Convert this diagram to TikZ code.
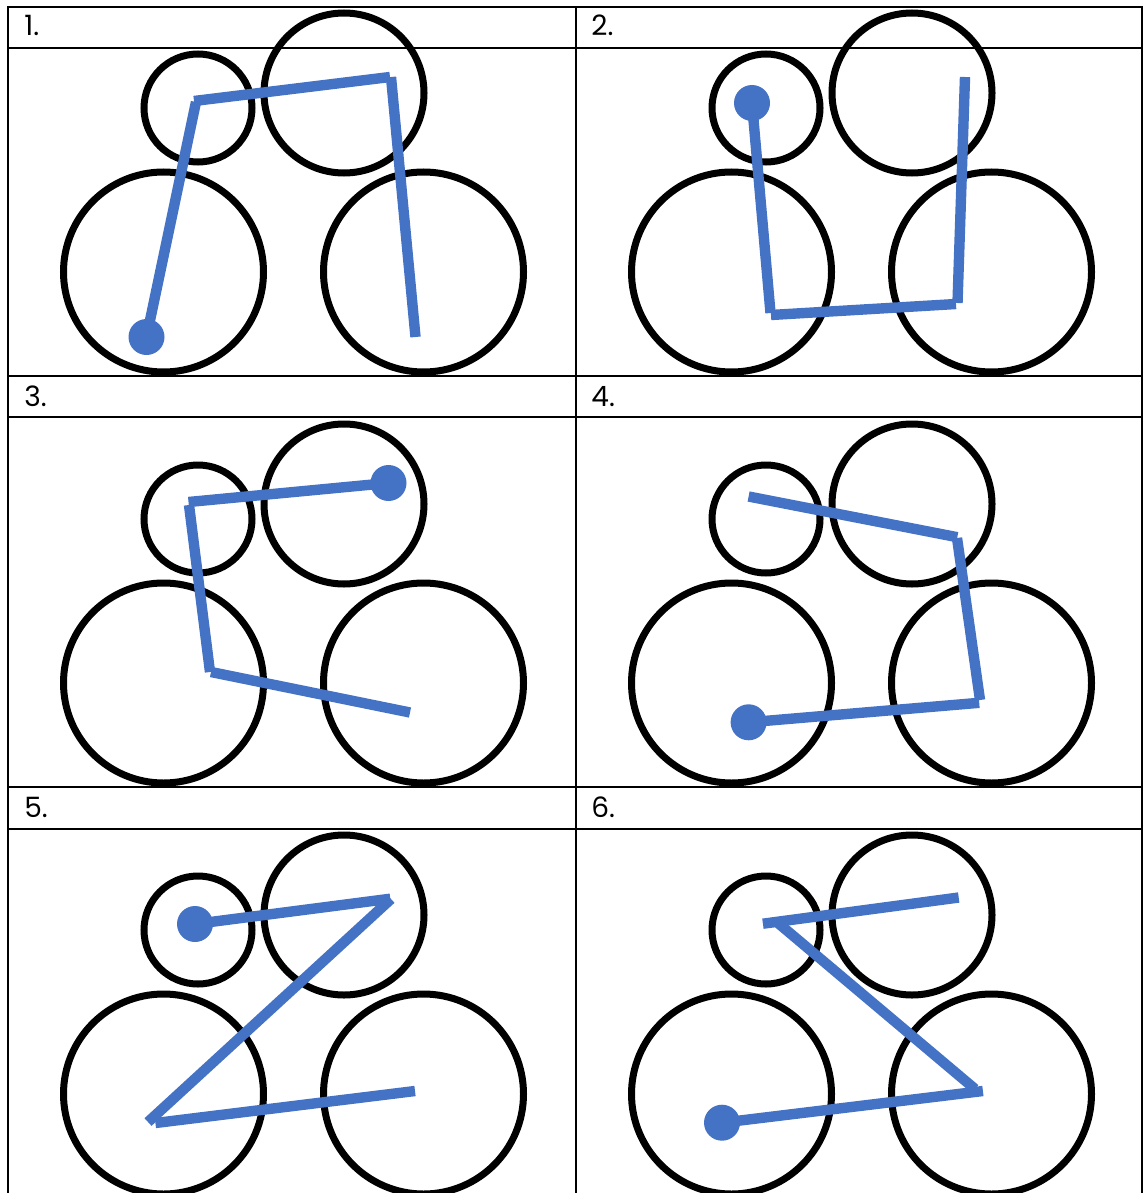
\documentclass[tikz,border=0pt]{standalone}
\usepackage{fontspec}
\usepackage{tikz}
\newfontfamily\xifres{Poppins}
\definecolor{blau}{HTML}{4472C4}

\begin{document}
\begin{tikzpicture}[x=0.5pt,y=-0.5pt,
        roda/.style={line width=3.5pt},
        tub/.style={line width=5.2pt,blau},
        vora/.style={line width=1.2pt}]
        \clip (0,0) rectangle (1144,1193);
        % Graella: tres files i dues columnes, amb capcalera
        \draw[vora] (8,1193) -- (8,7) -- (1142,7) -- (1142,1193);
        \draw[vora] (576,7) -- (576,1193);
        \foreach \y in {48,376,417,787,829}
            \draw[vora] (8,\y) -- (1142,\y);
        % Numeros de les caselles
        \foreach \n/\x/\y in {1/24/36,2/591/36,3/24/406,4/591/406,5/24/817,6/591/817}
            \node[anchor=base west,inner sep=0pt,font=\xifres\fontsize{14pt}{16pt}\selectfont] (num\n) at (\x,\y) {\n.};
        % Les quatre rodes de cada casella
        \foreach \dx in {0,568}
            \foreach \dy in {0,411,822} {
                \draw[roda] (198+\dx,108+\dy) circle (54);  % petita
                \draw[roda] (344+\dx,93+\dy) circle (80);   % mitjana
                \draw[roda] (163.5+\dx,272+\dy) circle (100);
                \draw[roda] (423.5+\dx,272+\dy) circle (100);
            }
        % Casella 1
        \draw[tub] (146.5,337) -- (196,102);
        \draw[tub] (194,101) -- (390,77);
        \draw[tub] (391,77) -- (415.5,337);
        \fill[blau] (146.5,337) circle (18);
        % Casella 2
        \draw[tub] (752,103) -- (770.5,313);
        \draw[tub] (771,315) -- (956,304);
        \draw[tub] (957.5,303) -- (965,77);
        \fill[blau] (752,103) circle (18);
        % Casella 3
        \draw[tub] (388.5,483) -- (188.5,502);
        \draw[tub] (189,505) -- (210,672);
        \draw[tub] (211,672) -- (410,712.5);
        \fill[blau] (388.5,483) circle (18);
        % Casella 4
        \draw[tub] (748.6,496.5) -- (957.3,537.2);
        \draw[tub] (957,538) -- (980,700);
        \draw[tub] (979.2,702.8) -- (748.6,722.3);
        \fill[blau] (748.6,722.3) circle (18);
        % Casella 5
        \draw[tub] (195,924) -- (390.3,898.7);
        \draw[tub] (391,899) -- (148,1122);
        \draw[tub] (155.4,1123) -- (415,1091);
        \fill[blau] (195,924) circle (18);
        % Casella 6
        \draw[tub] (958.7,897.5) -- (762.9,923.7);
        \draw[tub] (778,923) -- (975,1089);
        \draw[tub] (982.9,1091) -- (722,1122.7);
        \fill[blau] (722,1122.7) circle (18);
    \end{tikzpicture}
\end{document}
